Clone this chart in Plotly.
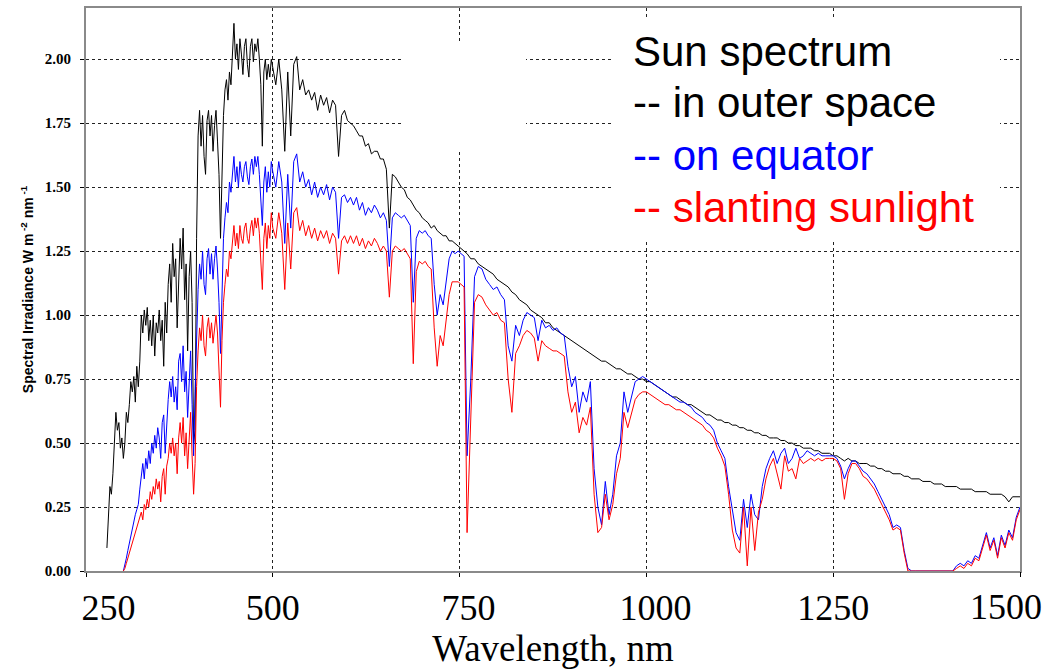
import plotly.graph_objects as go

# ---------------- data ----------------
# wavelength sampling grids (nm)
wl_uv = list(range(278, 500, 2))    # 278 .. 498
wl_vis = list(range(500, 760, 4))   # 500 .. 756
wl_ir = list(range(760, 1505, 5))   # 760 .. 1500

# Spectral irradiance, W m-2 nm-1 : outer space (black)
space_uv = [
    0.09, 0.25, 0.33, 0.30, 0.38, 0.50, 0.62, 0.55, 0.58, 0.48,
    0.52, 0.44, 0.50, 0.62, 0.58, 0.65, 0.74, 0.70, 0.76, 0.66,
    0.80, 0.72, 0.82, 1.00, 0.93, 1.02, 0.96, 1.03, 0.90, 0.98,
    0.88, 1.00, 0.84, 0.97, 0.93, 1.02, 0.90, 0.98, 0.80, 1.05,
    0.93, 1.12, 1.20, 1.05, 1.28, 1.15, 1.22, 0.95, 1.10, 1.30,
    1.18, 1.34, 1.06, 1.20, 0.86, 1.15, 1.25, 1.05, 0.50, 0.55,
    1.30, 1.70, 1.80, 1.66, 1.78, 1.62, 1.55, 1.76, 1.80, 1.70,
    1.78, 1.64, 1.74, 1.80, 1.68, 1.55, 1.30, 1.60, 1.78, 1.88,
    1.92, 1.84, 1.95, 1.90, 2.02, 2.14, 2.00, 2.06, 1.96, 2.08,
    2.02, 1.94, 2.05, 2.08, 1.98, 1.93, 2.05, 2.08, 1.99, 2.06,
    2.03, 2.08, 2.00, 1.90, 1.66, 1.95, 2.00, 1.92, 1.98, 1.93,
    2.00,
]
space_vis = [
    1.96, 1.90, 2.00, 1.88, 1.64, 1.95, 1.70, 1.98, 2.01, 1.88,
    1.92, 1.86, 1.88, 1.84, 1.87, 1.80, 1.86, 1.82, 1.85, 1.79,
    1.84, 1.82, 1.62, 1.78, 1.80, 1.76, 1.75, 1.74, 1.72, 1.70,
    1.70, 1.66, 1.67, 1.63, 1.64, 1.64, 1.61, 1.61, 1.57, 1.34,
    1.55, 1.54, 1.52, 1.50, 1.49, 1.46, 1.45, 1.43, 1.41, 1.40,
    1.38, 1.37, 1.36, 1.34, 1.35, 1.33, 1.32, 1.31, 1.31, 1.29,
    1.29, 1.28, 1.27, 1.26, 1.25,
]
space_ir = [
    1.24, 1.22, 1.22, 1.20, 1.19, 1.18, 1.17, 1.16, 1.14, 1.13,
    1.12, 1.11, 1.09, 1.08, 1.06, 1.05, 1.04, 1.02, 1.01, 1.00,
    0.99, 0.97, 0.97, 0.95, 0.94, 0.93, 0.92, 0.91, 0.90, 0.89,
    0.88, 0.87, 0.86, 0.85, 0.84, 0.83, 0.82, 0.82, 0.81, 0.80,
    0.79, 0.79, 0.78, 0.77, 0.77, 0.76, 0.75, 0.75, 0.74, 0.74,
    0.73, 0.72, 0.71, 0.70, 0.69, 0.68, 0.68, 0.67, 0.66, 0.65,
    0.65, 0.64, 0.63, 0.62, 0.61, 0.61, 0.60, 0.59, 0.59, 0.58,
    0.58, 0.57, 0.57, 0.56, 0.56, 0.55, 0.55, 0.54, 0.54, 0.53,
    0.53, 0.52, 0.52, 0.52, 0.51, 0.51, 0.50, 0.50, 0.49, 0.49,
    0.48, 0.48, 0.48, 0.47, 0.47, 0.46, 0.46, 0.46, 0.45, 0.45,
    0.44, 0.43, 0.44, 0.43, 0.43, 0.42, 0.42, 0.42, 0.41, 0.41,
    0.40, 0.40, 0.39, 0.39, 0.38, 0.38, 0.38, 0.37, 0.37, 0.36,
    0.36, 0.36, 0.35, 0.35, 0.35, 0.34, 0.34, 0.34, 0.33, 0.33,
    0.33, 0.33, 0.32, 0.32, 0.32, 0.32, 0.31, 0.31, 0.31, 0.31,
    0.30, 0.30, 0.30, 0.30, 0.29, 0.27, 0.29, 0.29, 0.29,
]

# on equator (blue)
equator_uv = [None] * 11 + [
    0.00, 0.02, 0.05, 0.08, 0.11, 0.14, 0.17, 0.20, 0.22, 0.24,
    0.26, 0.32, 0.38, 0.42, 0.36, 0.44, 0.40, 0.47, 0.42, 0.50,
    0.46, 0.53, 0.48, 0.56, 0.52, 0.44, 0.58, 0.61, 0.46, 0.60,
    0.67, 0.74, 0.68, 0.76, 0.66, 0.72, 0.63, 0.82, 0.85, 0.74,
    0.88, 0.70, 0.78, 0.60, 0.72, 0.86, 0.65, 0.45, 0.70, 0.95,
    1.10, 1.20, 1.14, 1.25, 1.12, 1.08, 1.22, 1.26, 1.16, 1.24,
    1.14, 1.22, 1.27, 1.18, 1.05, 0.85, 1.12, 1.30, 1.38, 1.44,
    1.40, 1.52, 1.48, 1.56, 1.62, 1.52, 1.58, 1.50, 1.60, 1.55,
    1.52, 1.58, 1.60, 1.54, 1.51, 1.58, 1.61, 1.55, 1.62, 1.58,
    1.62, 1.55, 1.45, 1.35, 1.52, 1.58, 1.48, 1.56, 1.50, 1.60,
]
equator_vis = [
    1.56, 1.50, 1.60, 1.52, 1.28, 1.55, 1.34, 1.60, 1.63, 1.52,
    1.56, 1.50, 1.53, 1.47, 1.52, 1.46, 1.50, 1.47, 1.51, 1.45,
    1.50, 1.48, 1.30, 1.46, 1.47, 1.44, 1.46, 1.43, 1.46, 1.41,
    1.44, 1.39, 1.42, 1.40, 1.43, 1.41, 1.38, 1.40, 1.37, 1.19,
    1.38, 1.40, 1.39, 1.38, 1.39, 1.37, 1.35, 1.05, 1.30, 1.33,
    1.32, 1.33, 1.31, 1.30, 1.12, 1.00, 1.08, 1.04, 1.14, 1.22,
    1.25, 1.24, 1.25, 1.24, 1.23,
]
equator_ir = [
    0.45, 0.75, 1.15, 1.19, 1.18, 1.14, 1.12, 1.10, 1.11, 1.08,
    1.06, 0.88, 0.82, 0.96, 0.92, 0.98, 1.01, 1.00, 0.99, 0.90,
    0.98, 0.95, 0.96, 0.94, 0.95, 0.93, 0.92, 0.80, 0.72, 0.76,
    0.62, 0.70, 0.66, 0.74, 0.40, 0.25, 0.18, 0.35, 0.22, 0.30,
    0.45, 0.50, 0.70, 0.62, 0.68, 0.74, 0.75, 0.76, 0.75, 0.74,
    0.73, 0.72, 0.71, 0.70, 0.69, 0.68, 0.67, 0.66, 0.66, 0.65,
    0.64, 0.62, 0.61, 0.60, 0.58, 0.57, 0.55, 0.50, 0.47, 0.44,
    0.33, 0.23, 0.15, 0.12, 0.28, 0.17, 0.30, 0.22, 0.20, 0.33,
    0.40, 0.44, 0.47, 0.42, 0.46, 0.48, 0.42, 0.44, 0.48, 0.44,
    0.45, 0.47, 0.46, 0.45, 0.46, 0.45, 0.45, 0.45, 0.45, 0.44,
    0.41, 0.36, 0.40, 0.43, 0.43, 0.41, 0.39, 0.38, 0.36, 0.34,
    0.31, 0.28, 0.25, 0.22, 0.17, 0.18, 0.17, 0.08, 0.01, 0.00,
    0.00, 0.00, 0.00, 0.00, 0.00, 0.00, 0.00, 0.00, 0.00, 0.00,
    0.00, 0.02, 0.03, 0.02, 0.04, 0.03, 0.06, 0.05, 0.10, 0.15,
    0.09, 0.13, 0.06, 0.14, 0.10, 0.16, 0.13, 0.21, 0.25,
]

# slanting sunlight (red)
slant_uv = [None] * 11 + [
    0.00, 0.01, 0.03, 0.05, 0.07, 0.09, 0.11, 0.13, 0.15, 0.17,
    0.19, 0.21, 0.23, 0.20, 0.26, 0.24, 0.28, 0.25, 0.31, 0.28,
    0.33, 0.30, 0.36, 0.32, 0.35, 0.27, 0.37, 0.40, 0.30, 0.41,
    0.44, 0.50, 0.46, 0.52, 0.45, 0.50, 0.38, 0.52, 0.58, 0.50,
    0.60, 0.45, 0.54, 0.40, 0.50, 0.62, 0.45, 0.30, 0.42, 0.72,
    0.86, 0.95, 0.90, 1.00, 0.88, 0.84, 0.95, 0.99, 0.91, 0.97,
    0.89, 0.95, 1.00, 0.93, 0.80, 0.64, 0.90, 1.05, 1.12, 1.18,
    1.15, 1.25, 1.22, 1.28, 1.35, 1.27, 1.32, 1.26, 1.35, 1.30,
    1.28, 1.34, 1.36, 1.30, 1.28, 1.34, 1.37, 1.31, 1.38, 1.34,
    1.38, 1.32, 1.22, 1.10, 1.30, 1.36, 1.26, 1.35, 1.30, 1.40,
]
slant_vis = [
    1.34, 1.30, 1.40, 1.32, 1.10, 1.36, 1.18, 1.40, 1.42, 1.33,
    1.37, 1.31, 1.35, 1.30, 1.34, 1.29, 1.33, 1.30, 1.33, 1.28,
    1.32, 1.30, 1.16, 1.29, 1.31, 1.28, 1.31, 1.28, 1.31, 1.27,
    1.30, 1.26, 1.29, 1.27, 1.30, 1.28, 1.25, 1.27, 1.25, 1.07,
    1.25, 1.27, 1.26, 1.25, 1.26, 1.24, 1.22, 0.81, 1.17, 1.21,
    1.20, 1.21, 1.19, 1.18, 0.95, 0.80, 0.92, 0.88, 0.98, 1.08,
    1.13, 1.13, 1.13, 1.12, 1.11,
]
slant_ir = [
    0.15, 0.60, 1.05, 1.08, 1.07, 1.04, 1.02, 1.00, 1.01, 0.98,
    0.97, 0.75, 0.62, 0.85, 0.88, 0.92, 0.94, 0.93, 0.91, 0.82,
    0.90, 0.88, 0.87, 0.86, 0.86, 0.85, 0.84, 0.70, 0.62, 0.66,
    0.54, 0.60, 0.57, 0.64, 0.30, 0.15, 0.17, 0.30, 0.20, 0.26,
    0.38, 0.44, 0.62, 0.56, 0.62, 0.67, 0.69, 0.70, 0.70, 0.69,
    0.68, 0.67, 0.66, 0.65, 0.65, 0.64, 0.63, 0.63, 0.62, 0.61,
    0.60, 0.59, 0.58, 0.57, 0.55, 0.54, 0.52, 0.48, 0.45, 0.41,
    0.30, 0.16, 0.09, 0.07, 0.25, 0.02, 0.25, 0.08, 0.23, 0.28,
    0.36, 0.41, 0.44, 0.38, 0.32, 0.45, 0.39, 0.40, 0.36, 0.44,
    0.42, 0.43, 0.44, 0.43, 0.44, 0.43, 0.44, 0.44, 0.44, 0.43,
    0.40, 0.28, 0.38, 0.42, 0.42, 0.40, 0.37, 0.36, 0.34, 0.32,
    0.29, 0.26, 0.23, 0.20, 0.16, 0.17, 0.16, 0.07, 0.00, 0.00,
    0.00, 0.00, 0.00, 0.00, 0.00, 0.00, 0.00, 0.00, 0.00, 0.00,
    0.00, 0.01, 0.02, 0.01, 0.03, 0.02, 0.05, 0.04, 0.09, 0.14,
    0.08, 0.12, 0.05, 0.13, 0.09, 0.15, 0.12, 0.20, 0.24,
]

x_ticks = [250, 500, 750, 1000, 1250]
x_tick_end = [1500]
y_ticks = [0.00, 0.25, 0.50, 0.75, 1.00, 1.25, 1.50, 1.75, 2.00]

label_lines = ["Sun spectrum", "-- in outer space", "-- on equator", "-- slanting sunlight"]
label_colors = ["black", "black", "#0000FF", "#FF0000"]

# ---------------- figure ----------------
wl = wl_uv + wl_vis + wl_ir
series = [
    (space_uv + space_vis + space_ir, "black"),
    (equator_uv + equator_vis + equator_ir, "#0000FF"),
    (slant_uv + slant_vis + slant_ir, "#FF0000"),
]
for vals, _ in series:
    assert len(vals) == len(wl), (len(vals), len(wl))

fig = go.Figure()
for vals, col in series:
    fig.add_trace(go.Scatter(x=wl, y=vals, mode="lines",
                             line=dict(color=col, width=1),
                             showlegend=False, connectgaps=False,
                             hoverinfo="skip"))
# empty trace that makes the overlay axis (carrying the "1500" label) render
fig.add_trace(go.Scatter(x=[None], y=[None], xaxis="x2", yaxis="y",
                         mode="lines", showlegend=False, hoverinfo="skip"))

W, H = 1052, 672
ml, mr, mt, mb = 86, 32, 8, 101
pw, ph = W - ml - mr, H - mt - mb


def px_to_paper_x(px):
    return (px - ml) / pw


def px_to_paper_y(py):
    return (H - mb - py) / ph


# white boxes hiding the grid behind the text areas (no data lies there)
for (x0, x1, y0, y1) in [(613, 1000, 17, 240), (403, 526, 42, 150)]:
    fig.add_shape(type="rect", xref="paper", yref="paper",
                  x0=px_to_paper_x(x0), x1=px_to_paper_x(x1),
                  y0=px_to_paper_y(y1), y1=px_to_paper_y(y0),
                  fillcolor="white", line=dict(width=0), layer="above")

centers = [52, 103, 155, 207]
for txt, col, cy in zip(label_lines, label_colors, centers):
    fig.add_annotation(text=txt, xref="paper", yref="paper",
                       x=px_to_paper_x(631), y=px_to_paper_y(cy),
                       xanchor="left", yanchor="middle", showarrow=False,
                       font=dict(family="Liberation Sans, Arial", size=42, color=col))

# tick label text (non-breaking spaces nudge the labels as in the original)
NB = "\u00a0"
x_ticktext = [NB * 5 + "250", "500", NB * 2 + "750", NB * 2 + "1000", "1250"]

tick_font = dict(family="Liberation Serif, Times New Roman", size=36, color="black")

fig.update_layout(
    width=W, height=H,
    margin=dict(l=ml, r=mr, t=mt, b=mb, autoexpand=False),
    plot_bgcolor="white", paper_bgcolor="white",
    xaxis2=dict(
        overlaying="x", anchor="y", side="bottom", range=[250, 1500],
        tickvals=x_tick_end, ticktext=[str(v) for v in x_tick_end],
        tickfont=tick_font, ticks="outside", ticklen=4, tickcolor="black",
        ticklabelshift=-14, automargin=False,
        showgrid=False, showline=False, zeroline=False,
    ),
)
fig.update_xaxes(
    selector=dict(anchor="y", overlaying=None),
)
fig.layout.xaxis.update(
    range=[250, 1500], tickvals=x_ticks + x_tick_end,
    ticktext=x_ticktext + [""],
    tickfont=tick_font,
    ticks="outside", ticklen=4, tickcolor="black",
    automargin=False,
    showgrid=True, gridcolor="#222", griddash="3px,3px", gridwidth=1,
    showline=True, linecolor="#8a8a8a", linewidth=2, mirror=True,
    zeroline=False,
    title=dict(text="Wavelength, nm", standoff=4,
               font=dict(family="Liberation Serif, Times New Roman", size=37, color="black")),
)
fig.layout.yaxis.update(
    range=[0, 2.2], tickvals=y_ticks, tickformat=".2f",
    tickfont=dict(family="Liberation Serif, Times New Roman", size=15, color="black", weight="bold"),
    ticks="outside", ticklen=4, tickcolor="black", ticklabelstandoff=6,
    automargin=False,
    showgrid=True, gridcolor="#222", griddash="3px,3px", gridwidth=1,
    showline=True, linecolor="#8a8a8a", linewidth=2, mirror=True,
    zeroline=False,
    title=dict(text="Spectral Irradiance W m<sup> -2</sup> nm<sup> -1</sup>", standoff=8,
               font=dict(family="Liberation Sans, Arial", size=14, color="black", weight="bold")),
)

fig.write_html("out.html")
